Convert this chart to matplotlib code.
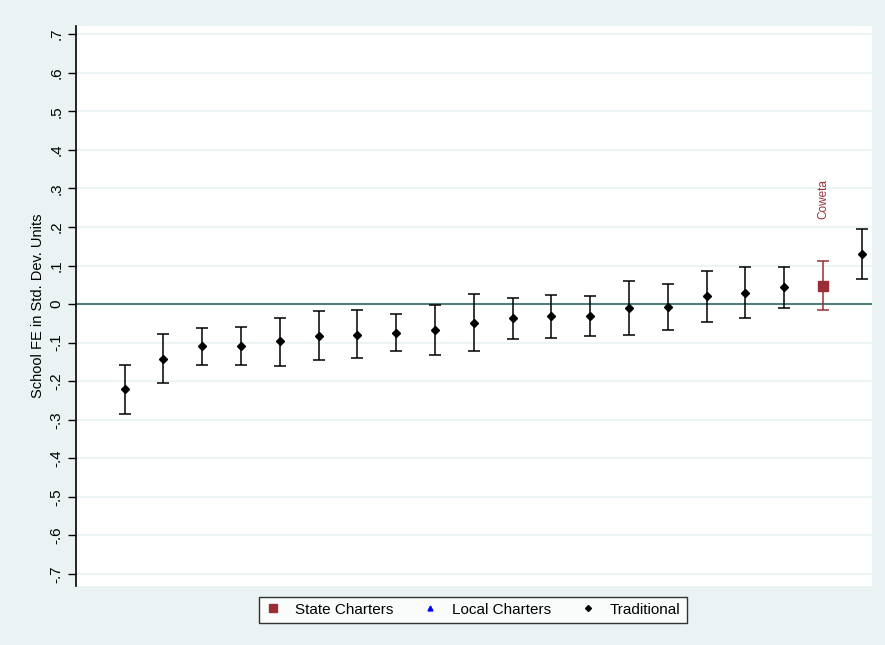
import numpy as np
import matplotlib.pyplot as plt
from matplotlib.lines import Line2D

# school fixed effects, sorted by estimate (rank 1..20)
rank = np.arange(1, 21)
school_type = ['Traditional'] * 18 + ['State Charters', 'Traditional']
fe = [-0.221, -0.142, -0.110, -0.108, -0.097, -0.082, -0.079, -0.074, -0.067, -0.048,
      -0.037, -0.031, -0.030, -0.011, -0.008, 0.020, 0.029, 0.043, 0.048, 0.129]
ci_hi = [-0.158, -0.078, -0.062, -0.059, -0.035, -0.019, -0.016, -0.026, -0.003, 0.026,
         0.016, 0.024, 0.022, 0.061, 0.053, 0.086, 0.095, 0.095, 0.111, 0.195]
ci_lo = [-0.284, -0.204, -0.159, -0.158, -0.160, -0.145, -0.140, -0.121, -0.131, -0.122,
         -0.090, -0.087, -0.082, -0.081, -0.067, -0.046, -0.037, -0.009, -0.015, 0.065]
label_school = 'Coweta'
yticks = np.round(np.arange(-0.7, 0.71, 0.1), 1)

bg = '#EAF2F3'
maroon = '#9A2E36'
plt.rcParams['font.family'] = ['Liberation Sans', 'DejaVu Sans']

fig = plt.figure(figsize=(8.85, 6.45), dpi=100, facecolor=bg)
ax = fig.add_axes([76/885, 1-586/645, (872-76)/885, (586-26)/645])
ax.set_facecolor('white')

fe = np.array(fe); ci_hi = np.array(ci_hi); ci_lo = np.array(ci_lo)
is_state = np.array([t == 'State Charters' for t in school_type])
is_trad = ~is_state

ax.axhline(0, color='#4F807C', lw=1.5, zorder=1)

for mask, col, mk, ms in [(is_trad, 'black', 'D', 3.6), (is_state, maroon, 's', 6.5)]:
    ax.errorbar(rank[mask], fe[mask],
                yerr=[fe[mask] - ci_lo[mask], ci_hi[mask] - fe[mask]],
                fmt='none', ecolor=col, elinewidth=1.1, capsize=4.5, capthick=1.1, zorder=2)
    ax.plot(rank[mask], fe[mask], ls='none', marker=mk, color=col, ms=ms, zorder=3)

i = np.where(is_state)[0][0]
ax.text(rank[i], ci_hi[i] + 0.16, label_school, rotation=90, ha='center', va='center',
        color=maroon, fontsize=8.5)

ax.set_xlim(-0.25, 20.26)
ax.set_ylim(-0.731, 0.721)
ax.set_xticks([])
ax.set_yticks(yticks)
ax.set_yticklabels([('%g' % v).replace('0.', '.') if v != 0 else '0' for v in yticks],
                   rotation=90, va='center', fontsize=11)
ax.tick_params(axis='y', length=6, width=1, color='black', pad=3)
ax.grid(axis='y', color=bg, lw=1.2)
ax.set_axisbelow(True)
for s in ['top', 'right', 'bottom']:
    ax.spines[s].set_visible(False)
ax.spines['left'].set_linewidth(1.2)
ax.set_ylabel('School FE in Std. Dev. Units', fontsize=10.5, labelpad=3)

handles = [Line2D([], [], ls='none', marker='s', color=maroon, ms=6),
           Line2D([], [], ls='none', marker='^', color='blue', ms=3.5),
           Line2D([], [], ls='none', marker='D', color='black', ms=3)]
leg = fig.legend(handles, ['State Charters', 'Local Charters', 'Traditional'],
                 loc='upper center', bbox_to_anchor=(473/885, 1-589/645), ncol=3,
                 fontsize=11, frameon=True, fancybox=False, edgecolor='black',
                 handlelength=1, handletextpad=0.9, columnspacing=1.95,
                 borderpad=0.4)
leg.get_frame().set_linewidth(1)

fig.savefig('out.png', dpi=100, facecolor=bg)
